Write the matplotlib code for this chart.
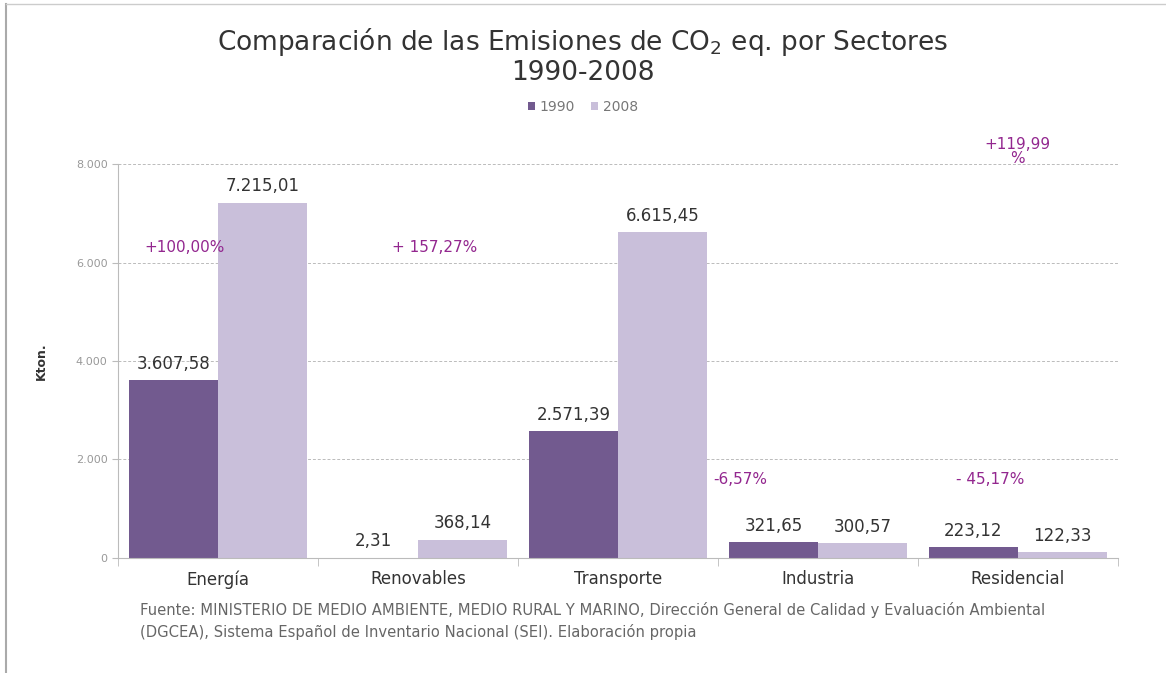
import matplotlib.pyplot as plt
import numpy as np
from matplotlib.ticker import FuncFormatter

# ----- Datos -----
sectores = ['Energía', 'Renovables', 'Transporte', 'Industria', 'Residencial']
emis1990 = [3607.58, 2.31, 2571.39, 321.65, 223.12]
emis2008 = [7215.01, 368.14, 6615.45, 300.57, 122.33]
etiq1990 = ['3.607,58', '2,31', '2.571,39', '321,65', '223,12']
etiq2008 = ['7.215,01', '368,14', '6.615,45', '300,57', '122,33']

# variaciones tal y como aparecen en el grafico original
variaciones = ['+100,00%', '+ 157,27%', '-6,57%', '- 45,17%', '+119,99\n%']
var_x = [-0.165, 1.085, 2.61, 3.86, 3.995]
var_y = [6300, 6300, 1600, 1600, 8250]

c1990 = '#725a8f'
c2008 = '#c9bfda'
cpct = '#93278f'

plt.rcParams['font.family'] = ['DejaVu Sans']

fig = plt.figure(figsize=(11.66, 6.73), dpi=100)
ax = fig.add_axes([0.1012, 0.1709, 0.8576, 0.5854])

x = np.arange(len(sectores))
ancho = 0.445
b1 = ax.bar(x - ancho / 2, emis1990, ancho, color=c1990, label='1990')
b2 = ax.bar(x + ancho / 2, emis2008, ancho, color=c2008, label='2008')

for i in range(len(sectores)):
    ax.text(x[i] - ancho / 2, emis1990[i] + 150, etiq1990[i], ha='center', va='bottom',
            fontsize=12, fontweight='medium', color='#333333')
    ax.text(x[i] + ancho / 2, emis2008[i] + 150, etiq2008[i], ha='center', va='bottom',
            fontsize=12, fontweight='medium', color='#333333')

for txt, px, py in zip(variaciones, var_x, var_y):
    ax.text(px, py, txt, ha='center', va='center', fontsize=11, color=cpct,
            linespacing=0.9)

ax.set_xlim(-0.5, len(sectores) - 0.5)
ax.set_ylim(0, 8000)
ax.set_yticks([0, 2000, 4000, 6000, 8000])
ax.yaxis.set_major_formatter(FuncFormatter(lambda v, p: f'{int(v):,}'.replace(',', '.')))
ax.tick_params(axis='y', labelsize=8, labelcolor='#999999', color='#bbbbbb', length=4)
ax.yaxis.grid(True, linestyle=(0, (3, 2)), color='#bbbbbb', linewidth=0.7)
ax.set_axisbelow(True)

ax.set_xticks(x)
ax.set_xticklabels(sectores, fontsize=12, color='#333333')
ax.set_xticks(np.arange(-0.5, len(sectores)), minor=True)
ax.tick_params(axis='x', which='major', length=0, pad=9)
ax.tick_params(axis='x', which='minor', length=6, color='#bbbbbb')

for s in ['top', 'right']:
    ax.spines[s].set_visible(False)
ax.spines['left'].set_color('#bbbbbb')
ax.spines['bottom'].set_color('#bbbbbb')

ax.set_ylabel('Kton.', fontsize=9, fontweight='bold', color='#333333', labelpad=20)

fig.text(0.5, 0.962, 'Comparación de las Emisiones de CO$_2$ eq. por Sectores\n1990-2008',
         ha='center', va='top', fontsize=19, color='#333333', linespacing=1.1)

fig.legend(handles=[b1, b2], loc='center', bbox_to_anchor=(0.5, 0.841), ncol=2, frameon=False,
           fontsize=10, handlelength=0.5, handleheight=0.5, handletextpad=0.3,
           columnspacing=1.2, labelcolor='#777777')

fig.text(0.12, 0.077, 'Fuente: MINISTERIO DE MEDIO AMBIENTE, MEDIO RURAL Y MARINO, Dirección General de Calidad y Evaluación Ambiental\n'
         '(DGCEA), Sistema Español de Inventario Nacional (SEI). Elaboración propia',
         ha='left', va='center', fontsize=10.6, color='#666666', linespacing=1.5)

# marco del grafico
fig.add_artist(plt.Line2D([0.005, 0.005], [0.0, 0.994], color='#aaaaaa', linewidth=1.5))
fig.add_artist(plt.Line2D([0.005, 1.0], [0.994, 0.994], color='#cccccc', linewidth=1.0))

fig.savefig('out.png', dpi=100)
